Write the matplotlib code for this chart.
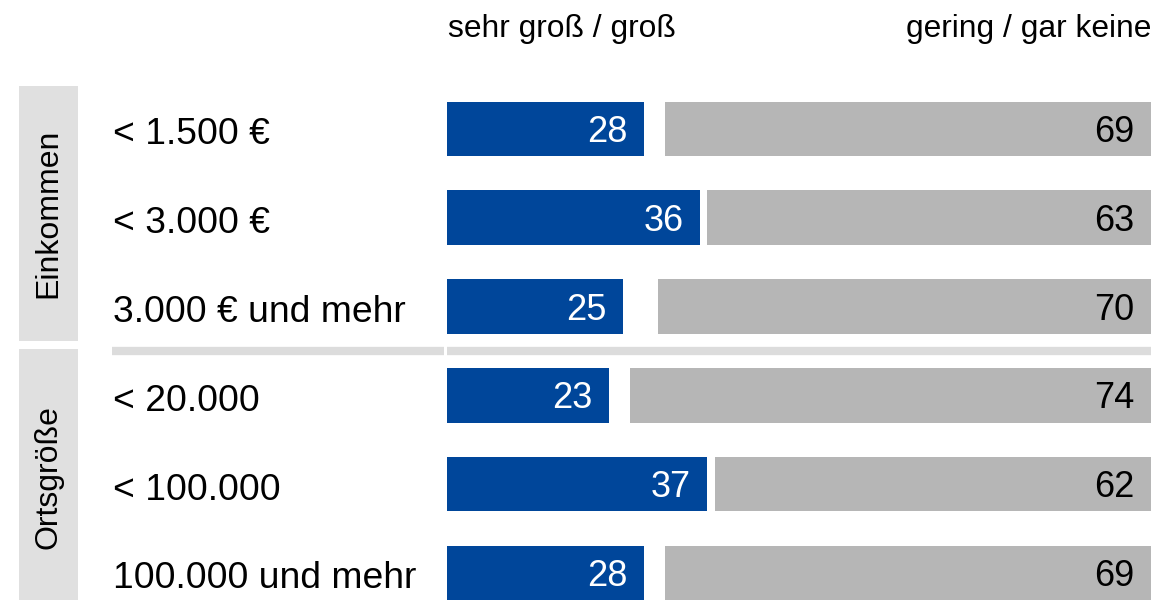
import matplotlib
matplotlib.use('Agg')

from matplotlib import pyplot as plt
from matplotlib import transforms
from matplotlib.patches import Rectangle

plt.rcParams['font.family'] = ['Liberation Sans', 'DejaVu Sans']

categories = ['< 1.500 €', '< 3.000 €', '3.000 € und mehr',
              '< 20.000', '< 100.000', '100.000 und mehr']
gross = [28, 36, 25, 23, 37, 28]
gering = [69, 63, 70, 74, 62, 69]
groups = ['Einkommen', 'Ortsgröße']
group_rows = [(-0.48, 2.39), (2.48, 5.6)]
group_text_y = [0.95, 3.92]
headers = ['sehr groß / groß', 'gering / gar keine']

BLUE = '#00469a'
GRAY = '#b6b6b6'
BOX = '#e0e0e0'

W, H = 1155, 600
fig = plt.figure(figsize=(W / 100, H / 100), dpi=100)

# bar axes: value 0 at x=447px, 100 at x=1151px; row i centered at 128.7 + 88.9*i px
row_h = 88.9
top = 128.7 - row_h / 2
bottom = 128.7 + row_h * 5.5
ax = fig.add_axes([447 / W, 1 - bottom / H, 704 / W, (bottom - top) / H])
ax.set_xlim(0, 100)
ax.set_ylim(5.5, -0.5)
ax.axis('off')

y = range(len(categories))
ax.barh(y, gross, height=0.61, color=BLUE)
left_gray = [100 - g for g in gering]
ax.barh(y, gering, left=left_gray, height=0.61, color=GRAY)

pad = 17 / 7.04
val_base = 13 / row_h
for i in y:
    ax.text(gross[i] - pad, i + val_base, str(gross[i]), ha='right', va='baseline',
            color='white', fontsize=26)
    ax.text(100 - pad, i + val_base, str(gering[i]), ha='right', va='baseline',
            color='black', fontsize=26)

# category labels
tr_fig_data = transforms.blended_transform_factory(fig.transFigure, ax.transData)
cat_base = 15.3 / row_h
for i, c in enumerate(categories):
    ax.text(113 / W, i + cat_base, c, transform=tr_fig_data, ha='left',
            va='baseline', fontsize=26.8, color='black')

# separator between groups
sep_x_left = (112 - 447) / 7.04
ax.plot([sep_x_left, -0.45], [2.5, 2.5], color='#dcdcdc', lw=6, clip_on=False,
        solid_capstyle='butt')
ax.plot([0, 100], [2.5, 2.5], color='#dcdcdc', lw=6, clip_on=False,
        solid_capstyle='butt')

# group boxes
for name, (y0, y1), yc in zip(groups, group_rows, group_text_y):
    ax.add_patch(Rectangle((19 / W, y0), 59 / W, y1 - y0, transform=tr_fig_data,
                           facecolor=BOX, edgecolor='none', clip_on=False))
    ax.text(48.5 / W, yc, name, transform=tr_fig_data, rotation=90,
            ha='center', va='center', fontsize=23, color='black')

# headers
tr_data_fig = transforms.blended_transform_factory(ax.transData, fig.transFigure)
ax.text(0.1, 1 - 37 / H, headers[0], transform=tr_data_fig, ha='left',
        va='baseline', fontsize=22.9)
ax.text(100, 1 - 37 / H, headers[1], transform=tr_data_fig, ha='right',
        va='baseline', fontsize=22.9)

plt.savefig('out.png', dpi=100)
plt.close()
